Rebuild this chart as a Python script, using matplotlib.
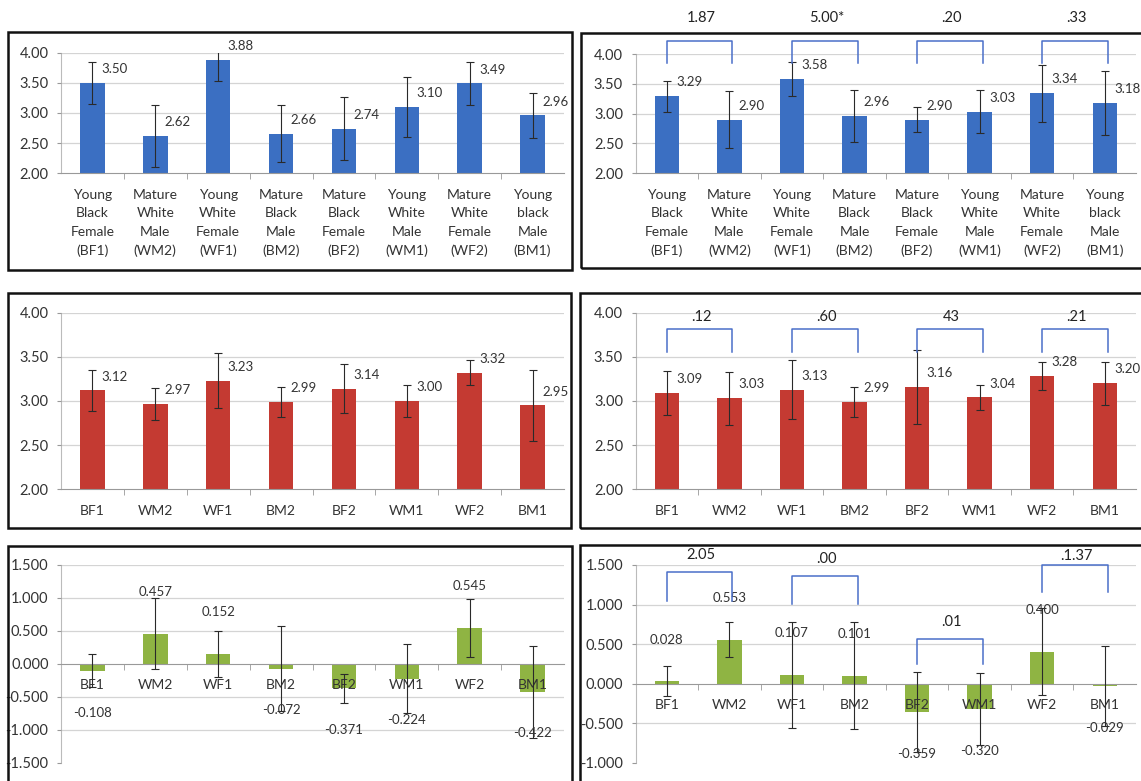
import numpy as np
import matplotlib
matplotlib.use("Agg")
import matplotlib.pyplot as plt
from matplotlib.patches import Rectangle

plt.rcParams['font.family'] = ['Lato', 'DejaVu Sans']
plt.rcParams['axes.unicode_minus'] = False

W, H = 1141, 781

codes = ['BF1', 'WM2', 'WF1', 'BM2', 'BF2', 'WM1', 'WF2', 'BM1']
long_names = ['Young\nBlack\nFemale\n(BF1)', 'Mature\nWhite\nMale\n(WM2)',
              'Young\nWhite\nFemale\n(WF1)', 'Mature\nBlack\nMale\n(BM2)',
              'Mature\nBlack\nFemale\n(BF2)', 'Young\nWhite\nMale\n(WM1)',
              'Mature\nWhite\nFemale\n(WF2)', 'Young\nblack\nMale\n(BM1)']

# first and second rating, mean and error per target
blue_left = [3.50, 2.62, 3.88, 2.66, 2.74, 3.10, 3.49, 2.96]
blue_left_err = [0.35, 0.52, 0.35, 0.47, 0.52, 0.50, 0.36, 0.37]
blue_right = [3.29, 2.90, 3.58, 2.96, 2.90, 3.03, 3.34, 3.18]
blue_right_err = [0.26, 0.48, 0.29, 0.43, 0.21, 0.36, 0.48, 0.54]

red_left = [3.12, 2.97, 3.23, 2.99, 3.14, 3.00, 3.32, 2.95]
red_left_err = [0.23, 0.18, 0.31, 0.17, 0.28, 0.18, 0.14, 0.40]
red_right = [3.09, 3.03, 3.13, 2.99, 3.16, 3.04, 3.28, 3.20]
red_right_err = [0.25, 0.30, 0.33, 0.17, 0.42, 0.14, 0.16, 0.24]

# difference scores
green_left = [-0.108, 0.457, 0.152, -0.072, -0.371, -0.224, 0.545, -0.422]
green_left_err = [0.25, 0.54, 0.35, 0.65, 0.22, 0.52, 0.44, 0.70]
green_right = [0.028, 0.553, 0.107, 0.101, -0.359, -0.320, 0.400, -0.029]
green_right_err = [0.19, 0.22, 0.67, 0.68, 0.50, 0.46, 0.55, 0.51]

# pairwise comparisons (BF1-WM2, WF1-BM2, BF2-WM1, WF2-BM1)
pairs = [0, 2, 4, 6]
blue_pair_t = ['1.87', '5.00*', '.20', '.33']
blue_bracket = [4.22, 4.22, 4.22, 4.22]
blue_leg = [3.85, 3.85, 3.85, 3.85]
blue_tlabel = [4.60, 4.60, 4.60, 4.60]

red_pair_t = ['.12', '.60', '43', '.21']
red_bracket = [3.82, 3.82, 3.82, 3.82]
red_leg = [3.56, 3.56, 3.56, 3.56]
red_tlabel = [3.95, 3.95, 3.95, 3.95]

green_pair_t = ['2.05', '.00', '.01', '.1.37']
green_bracket = [1.41, 1.36, 0.56, 1.50]
green_leg = [1.04, 1.01, 0.25, 1.16]
green_tlabel = [1.63, 1.58, 0.78, 1.61]

BLUE = '#3b6fc2'
RED = '#c43a32'
GREEN = '#8fb443'
TXT = '#333333'

fig = plt.figure(figsize=(W / 100, H / 100), dpi=100)


def frame(x0, y0, x1, y1):
    fig.patches.append(Rectangle((x0 / W, 1 - y1 / H), (x1 - x0) / W, (y1 - y0) / H,
                                 transform=fig.transFigure, fill=False,
                                 lw=1.8, ec='#111111'))


def panel(box, vals, errs, color, names, ylim, yticks, fmt, label_style):
    x0, y0, x1, y1 = box
    ax = fig.add_axes([x0 / W, 1 - y1 / H, (x1 - x0) / W, (y1 - y0) / H])
    x = np.arange(len(vals))
    # gridlines behind the bars, category labels on top of them
    for t in yticks:
        if t != ylim[0] and t != 0:
            ax.axhline(t, color='#d4d4d4', lw=0.9, zorder=0.5)
    ax.bar(x, vals, width=0.39, color=color, zorder=2)
    ax.errorbar(x, vals, yerr=errs, fmt='none', ecolor='#2a2a2a',
                elinewidth=0.8, capsize=3, capthick=0.8, zorder=3)
    ax.set_xlim(-0.5, len(vals) - 0.5)
    ax.set_ylim(*ylim)
    ax.set_yticks(yticks)
    ax.set_yticklabels([fmt % t for t in yticks])
    ax.set_xticks(x)
    ax.set_xticklabels(names, linespacing=1.65)
    ax.set_xticks(np.arange(0.5, len(vals) - 1, 1), minor=True)
    ax.tick_params(axis='x', which='major', length=0, pad=11, labelsize=10, colors=TXT)
    ax.tick_params(axis='x', which='minor', length=4, color='#999999')
    ax.tick_params(axis='y', length=3, color='#999999', labelsize=10.5, colors=TXT, pad=6)
    ax.set_axisbelow(False)
    for s in ['top', 'right']:
        ax.spines[s].set_visible(False)
    ax.spines['left'].set_color('#bbbbbb')
    ax.spines['bottom'].set_color('#999999')
    if ylim[0] < 0:
        ax.spines['bottom'].set_position(('data', 0))
    for i, v in enumerate(vals):
        if label_style == 'side':
            ax.annotate(f'{v:.2f}', (i + 0.15, v), xytext=(0, 10),
                        textcoords='offset points', ha='left', va='center',
                        fontsize=9.5, color=TXT)
        else:
            ax.annotate(f'{v:.3f}', (i, v), xytext=(0, 30 if v >= 0 else -30),
                        textcoords='offset points', ha='center', va='center',
                        fontsize=9.5, color=TXT)
    return ax


def brackets(ax, t_text, top, leg, tlab):
    for p, t, yt, yl, ylab in zip(pairs, t_text, top, leg, tlab):
        ax.plot([p, p, p + 1.05, p + 1.05], [yl, yt, yt, yl], color='#4a6fc9',
                lw=1.1, clip_on=False, zorder=4)
        ax.text(p + 0.55, ylab, t, ha='center', va='center', fontsize=10.5,
                color='#222222', clip_on=False)


left_x = (61, 564)
right_x = (635.5, 1136)

frame(8, 32, 572, 270)
frame(581, 33, 1150, 268)
frame(8, 293, 571, 528)
frame(580, 293, 1150, 528)
frame(8, 546, 572, 800)
frame(580, 545, 1150, 800)

ylim_rating = (2, 4)
ticks_rating = [2.0, 2.5, 3.0, 3.5, 4.0]

panel((left_x[0], 52.7, left_x[1], 173.3), blue_left, blue_left_err, BLUE,
      long_names, ylim_rating, ticks_rating, '%.2f', 'side')
ax2 = panel((right_x[0], 54, right_x[1], 173.3), blue_right, blue_right_err, BLUE,
            long_names, ylim_rating, ticks_rating, '%.2f', 'side')
brackets(ax2, blue_pair_t, blue_bracket, blue_leg, blue_tlabel)

panel((left_x[0], 312.7, left_x[1], 489.3), red_left, red_left_err, RED,
      codes, ylim_rating, ticks_rating, '%.2f', 'side')
ax4 = panel((right_x[0], 312.7, right_x[1], 489.3), red_right, red_right_err, RED,
            codes, ylim_rating, ticks_rating, '%.2f', 'side')
brackets(ax4, red_pair_t, red_bracket, red_leg, red_tlabel)

panel((left_x[0], 565, left_x[1], 762.7), green_left, green_left_err, GREEN,
      codes, (-1.5, 1.5), [-1.5, -1.0, -0.5, 0.0, 0.5, 1.0, 1.5], '%.3f', 'end')
ax6 = panel((right_x[0], 565, right_x[1], 762.7), green_right, green_right_err, GREEN,
            codes, (-1.0, 1.5), [-1.0, -0.5, 0.0, 0.5, 1.0, 1.5], '%.3f', 'end')
brackets(ax6, green_pair_t, green_bracket, green_leg, green_tlabel)

fig.savefig('out.png', dpi=100)
